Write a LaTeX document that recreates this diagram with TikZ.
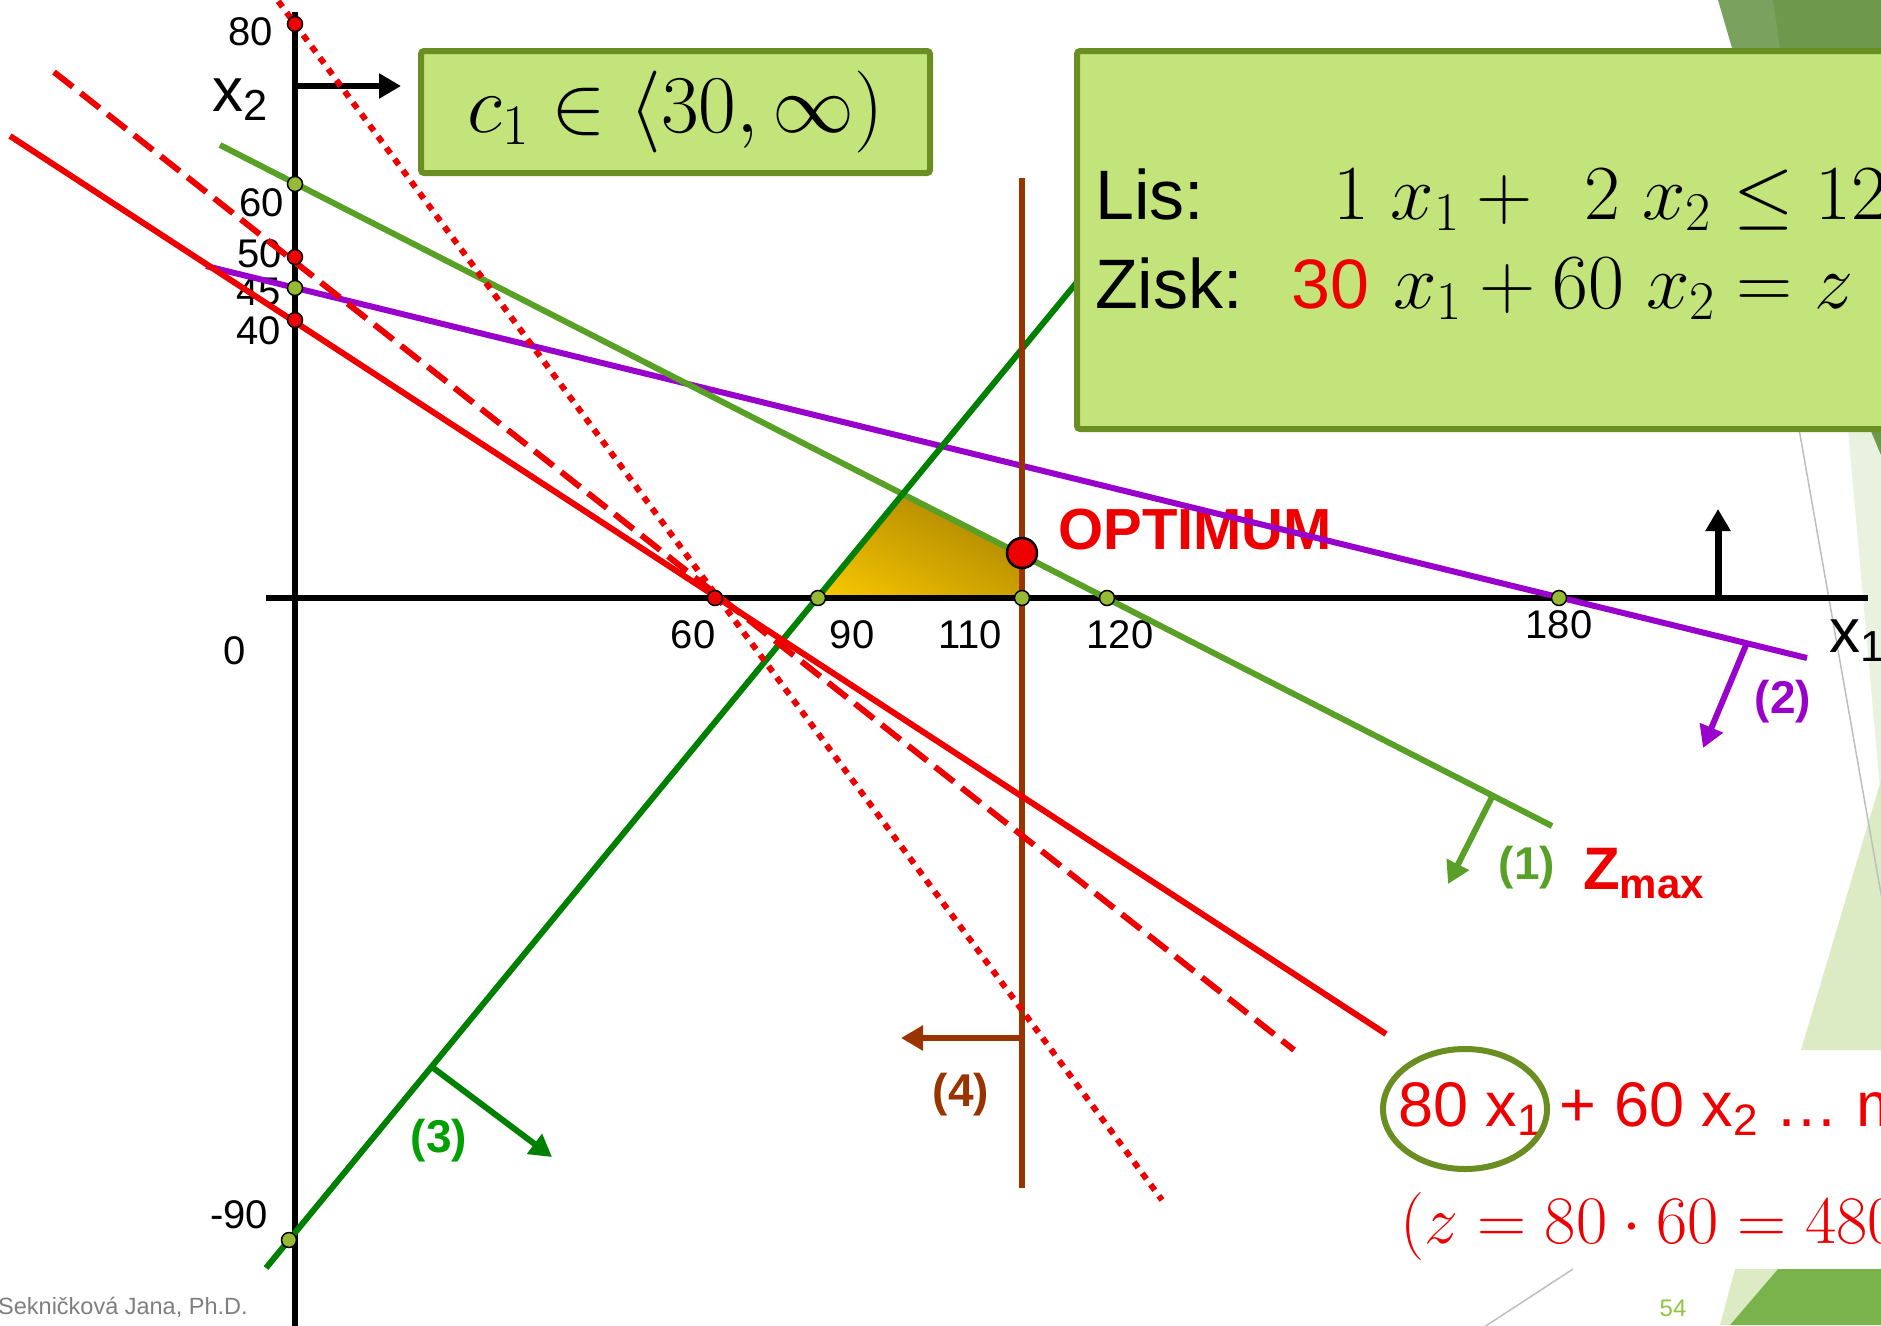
\documentclass[tikz,border=0pt]{standalone}
\usepackage{fix-cm}
\usepackage[no-math]{fontspec}
\setmainfont{Liberation Sans}
\usetikzlibrary{arrows.meta,shapes.geometric,shadings}

\definecolor{cRed}{RGB}{238,0,0}
\definecolor{cOne}{RGB}{88,160,38}
\definecolor{cTwo}{RGB}{153,0,204}
\definecolor{cThree}{RGB}{0,128,0}
\definecolor{cThreeTxt}{RGB}{0,160,0}
\definecolor{cFour}{RGB}{153,51,0}
\definecolor{cBox}{RGB}{194,228,122}
\definecolor{cOlive}{RGB}{107,142,35}
\definecolor{cDot}{RGB}{150,186,51}
\definecolor{cGold}{RGB}{250,202,0}
\definecolor{cGoldMd}{RGB}{205,160,0}
\definecolor{cGoldDk}{RGB}{160,125,0}
\definecolor{cDecoA}{RGB}{122,162,94}
\definecolor{cDecoB}{RGB}{110,152,76}
\definecolor{cDecoC}{RGB}{122,178,76}
\definecolor{cLight}{RGB}{221,235,196}
\definecolor{cPale}{RGB}{233,242,222}
\definecolor{cGrey}{RGB}{190,190,190}
\definecolor{cPage}{RGB}{141,198,63}
\definecolor{cAuthor}{RGB}{127,127,127}

\newcommand\fsz[1]{\fontsize{#1}{#1}\selectfont}

\begin{document}
\begin{tikzpicture}[
    x=1pt, y=-1pt,
    ticklbl/.style={font=\fsz{40}, inner sep=0pt},
    axname/.style={font=\fsz{62}, inner sep=0pt, anchor=base west},
    cname/.style={font=\bfseries\fsz{46}, inner sep=0pt},
    txt/.style={anchor=base west, inner sep=0pt},
    box/.style={draw=cOlive, line width=6pt, fill=cBox, rounded corners=3pt, inner sep=0pt},
    axline/.style={line width=6pt},
    cline/.style={line width=6pt},
    arr/.style={-{Triangle[length=22pt,width=24pt]}, line width=6pt},
    dotR/.style={circle, draw, line width=1.5pt, fill=cRed, inner sep=0pt, minimum size=15pt},
    dotG/.style={dotR, fill=cDot},
    zdash/.style={line width=6pt, cRed, dash pattern=on 24pt off 10pt},
    zdot/.style={line width=6pt, cRed, dash pattern=on 7pt off 7pt}
  ]
    \useasboundingbox (0,0) rectangle (1881,1325);
    \clip (0,0) rectangle (1881,1325);
    \fill[white] (0,0) rectangle (1881,1325);

    % slide decoration
    \fill[cDecoA] (1718,0) -- (1881,0) -- (1881,48) -- (1732,48) -- cycle;
    \fill[cDecoB] (1773,0) -- (1881,0) -- (1881,48) -- (1780,48) -- cycle;
    \fill[cPale] (1848,429) -- (1881,429) -- (1881,800) -- cycle;
    \fill[cDecoB] (1870,429) -- (1881,429) -- (1881,455) -- cycle;
    \fill[cLight] (1801,1050) -- (1881,780) -- (1881,1050) -- cycle;
    \draw[cGrey, line width=1.5pt] (1799,429) -- (1890,945);
    \draw[cGrey, line width=1.5pt] (1573,1269) -- (1478,1331);
    \fill[cLight] (1735,1269) -- (1778,1269) -- (1730,1325) -- (1720,1325) -- cycle;
    \fill[cDecoC] (1778,1269) -- (1881,1269) -- (1881,1325) -- (1730,1325) -- cycle;

    % feasible region
    \coordinate (f1) at (818,598);
    \coordinate (f2) at (903,494);
    \coordinate (f3) at (1022,555);
    \coordinate (f4) at (1022,598);
    \shade[lower left=cGold, upper right=cGoldDk, upper left=cGoldMd, lower right=cGoldMd]
      (f1) -- (f2) -- (f3) -- (f4) -- cycle;

    % axis labels
    \node[ticklbl] (l80) at (251,32) {80};
    \node[ticklbl] (l60y) at (262,203) {60};
    \node[ticklbl] (l50) at (260,254) {50};
    \node[ticklbl] (l45) at (259,292) {45};
    \node[ticklbl] (l40) at (259,331) {40};
    \node[ticklbl] (l0) at (235,651) {0};
    \node[ticklbl] (lm90) at (239,1215) {-90};
    \node[ticklbl] (l60) at (693,635) {60};
    \node[ticklbl] (l90) at (852,635) {90};
    \node[ticklbl] (l110) at (970,635) {110};
    \node[ticklbl] (l120) at (1120,635) {120};
    \node[ticklbl] (l180) at (1559,625) {180};
    \node[axname] (nx2) at (212,111) {x\textsubscript{2}};
    \node[axname] (nx1) at (1829,652) {x\textsubscript{1}};
    \node[txt, font=\bfseries\fsz{58}, text=cRed] (opt) at (1058,549) {OPTIMUM};

    % axes
    \coordinate (xa) at (266,598);
    \coordinate (xb) at (1868,598);
    \coordinate (ya) at (295,12);
    \coordinate (yb) at (295,1330);
    \draw[axline] (xa) -- (xb);
    \draw[axline] (ya) -- (yb);
    \coordinate (up0) at (1718,598);
    \coordinate (up1) at (1718,509);
    \draw[arr, line width=7pt] (up0) -- (up1);
    \coordinate (rt0) at (295,86);
    \coordinate (rt1) at (401,86);
    \draw[arr] (rt0) -- (rt1);

    % constraints
    \coordinate (a2) at (206,266);
    \coordinate (b2) at (1807,658);
    \draw[cline, cTwo] (a2) -- (b2);
    \coordinate (a1) at (220,145);
    \coordinate (b1) at (1552,826);
    \draw[cline, cOne] (a1) -- (b1);
    \coordinate (a3) at (266,1268);
    \coordinate (b3) at (1110,242);
    \draw[cline, cThree] (a3) -- (b3);
    \coordinate (a4) at (1022,178);
    \coordinate (b4) at (1022,1188);
    \draw[cline, cFour] (a4) -- (b4);

    \coordinate (s1) at (1492,797);
    \coordinate (e1) at (1448,884);
    \draw[arr, cOne] (s1) -- (e1);
    \coordinate (s2) at (1746,645);
    \coordinate (e2) at (1703,748);
    \draw[arr, cTwo] (s2) -- (e2);
    \coordinate (s3) at (432,1067);
    \coordinate (e3) at (552,1157);
    \draw[arr, cThree] (s3) -- (e3);
    \coordinate (s4) at (1022,1038);
    \coordinate (e4) at (901,1038);
    \draw[arr, cFour] (s4) -- (e4);

    % objective lines
    \coordinate (za) at (10,136);
    \coordinate (zb) at (1386,1034);
    \draw[cline, cRed] (za) -- (zb);
    \coordinate (da) at (54,72);
    \coordinate (db) at (1294,1050);
    \draw[zdash] (da) -- (db);
    \coordinate (ta) at (270,-10);
    \coordinate (tb) at (1162,1200);
    \draw[zdot] (ta) -- (tb);

    % points
    \node[dotR] (p80) at (295,24) {};
    \node[dotR] (p50) at (295,257) {};
    \node[dotR] (p40) at (295,320) {};
    \node[dotR] (p60x) at (715,598) {};
    \node[dotG] (p60y) at (295,184) {};
    \node[dotG] (p45) at (295,288) {};
    \node[dotG] (pm90) at (289,1240) {};
    \node[dotG] (p90) at (818,598) {};
    \node[dotG] (p110) at (1022,598) {};
    \node[dotG] (p120) at (1107,598) {};
    \node[dotG] (p180) at (1559,598) {};
    \node[dotR, line width=2.5pt, minimum size=30pt] (optdot) at (1022,553) {};

    % constraint numbers
    \node[cname, text=cOne] (n1) at (1527,868) {(1)};
    \node[cname, text=cTwo] (n2) at (1783,702) {(2)};
    \node[cname, text=cThreeTxt] (n3) at (439,1141) {(3)};
    \node[cname, text=cFour] (n4) at (961,1095) {(4)};
    \node[txt, font=\bfseries\fsz{60}, text=cRed] (zmax) at (1583,889) {Z\textsubscript{max}};

    % boxes
    \node[box, minimum width=509pt, minimum height=122pt, font=\fsz{82}] (cbox) at (675.5,112)
      {$c_1 \in \langle 30, \infty)$};
    \node[box, anchor=north west, minimum width=850pt, minimum height=378pt] (bigbox) at (1074,48) {};
    \node[txt, font=\fsz{70}] (lis) at (1095,219) {Lis:};
    \node[txt, font=\fsz{78}] (lisq) at (1333,219) {$1\;x_1 + \;\,2\;x_2 \le 12$};
    \node[txt, font=\fsz{70}] (zisk) at (1095,308) {Zisk:};
    \node[txt, font=\fsz{70}, text=cRed] (c30) at (1291,308) {30};
    \node[txt, font=\fsz{78}] (ziskq) at (1393,308) {$x_1 + 60\;x_2 = z$};

    % new objective
    \node[txt, font=\fsz{63}, text=cRed] (obj) at (1398,1126) {80 x\textsubscript{1} + 60 x\textsubscript{2} … m};
    \node[draw=cOlive, line width=6pt, ellipse, minimum width=164pt, minimum height=120pt,
          inner sep=0pt] (oval) at (1465,1109) {};
    \node[txt, font=\fsz{68}, text=cRed] (zval) at (1400,1243) {$(z = 80 \cdot 60 = 480$};

    % footer
    \node[font=\fsz{24}, text=cPage, inner sep=0pt] (page) at (1673,1308) {54};
    \node[font=\fsz{23.5}, text=cAuthor, inner sep=0pt, anchor=west] (author) at (-2,1307)
      {Sekničková Jana, Ph.D.};
\end{tikzpicture}
\end{document}
